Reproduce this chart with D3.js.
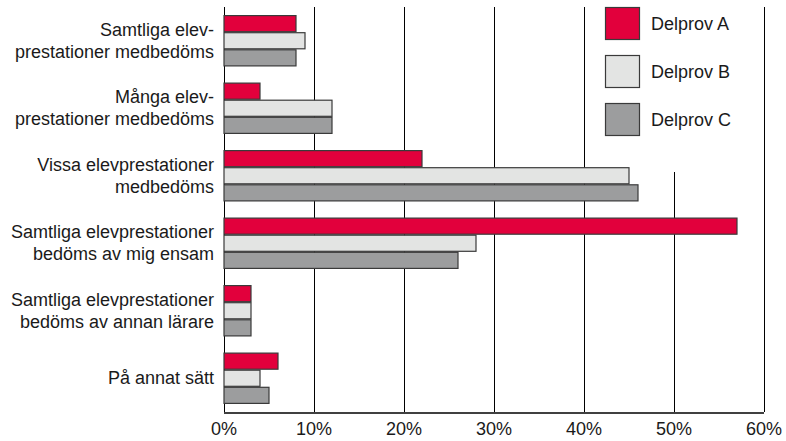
<!DOCTYPE html>
<html>
  <head>
    <meta charset="UTF-8" />
    <script src="https://d3js.org/d3.v7.min.js"></script>
    <style>
      body { margin: 0; background: #fff; }
      text { font-family: "Liberation Sans", Arial, sans-serif; font-size: 18px; fill: #1a1a1a; }
    </style>
  </head>
  <body>
    <svg id="chart" width="786" height="441"></svg>
    <script>
      // kategorier (radbrytningar som i originalet)
      var categories = [
        ["Samtliga elev-", "prestationer medbedöms"],
        ["Många elev-", "prestationer medbedöms"],
        ["Vissa elevprestationer", "medbedöms"],
        ["Samtliga elevprestationer", "bedöms av mig ensam"],
        ["Samtliga elevprestationer", "bedöms av annan lärare"],
        ["På annat sätt"]
      ];
      var series = ["Delprov A", "Delprov B", "Delprov C"];
      var delprovA = [8, 4, 22, 57, 3, 6];
      var delprovB = [9, 12, 45, 28, 3, 4];
      var delprovC = [8, 12, 46, 26, 3, 5];
      var ticks = [0, 10, 20, 30, 40, 50, 60];
      var colors = ["#e2003c", "#e3e4e3", "#9c9d9e"];

      var values = [delprovA, delprovB, delprovC];
      var svg = d3.select("svg");
      var plotTop = 7, plotBottom = 412;

      var x = d3.scaleLinear().domain([0, 60]).range([223.5, 763.5]);
      var y0 = d3.scaleBand()
        .domain(d3.range(categories.length))
        .range([plotTop, plotBottom])
        .paddingInner(0.24)
        .paddingOuter(0.12);
      var y1 = d3.scaleBand()
        .domain(series)
        .range([0, y0.bandwidth()]);
      var color = d3.scaleOrdinal().domain(series).range(colors);

      // stödlinjer
      svg.append("g")
        .selectAll("line")
        .data(ticks)
        .enter().append("line")
        .attr("x1", d => Math.round(x(d)) + 0.5)
        .attr("x2", d => Math.round(x(d)) + 0.5)
        .attr("y1", plotTop)
        .attr("y2", plotBottom)
        .style("stroke", "#000")
        .style("stroke-width", 1);

      // legend-bakgrund täcker 50%-linjen
      var legend = svg.append("g");
      legend.append("rect")
        .attr("x", x(40) + 2)
        .attr("y", plotTop)
        .attr("width", x(60) - x(40) - 4)
        .attr("height", 165)
        .attr("fill", "#fff");

      // staplar
      var groups = svg.append("g")
        .selectAll("g")
        .data(categories)
        .enter().append("g")
        .attr("transform", (d, i) => "translate(0," + y0(i) + ")");

      groups.selectAll("rect")
        .data((d, i) => series.map((s, j) => ({ s: s, v: values[j][i] })))
        .enter().append("rect")
        .attr("x", x(0) + 0.5)
        .attr("y", d => y1(d.s) + 0.5)
        .attr("width", d => x(d.v) - x(0))
        .attr("height", y1.bandwidth() - 1)
        .attr("fill", d => color(d.s))
        .style("stroke", "#3a3a3a")
        .style("stroke-width", 1.2);

      // kategorietiketter
      groups.append("text")
        .attr("text-anchor", "end")
        .attr("x", 214)
        .attr("y", y0.bandwidth() / 2)
        .selectAll("tspan")
        .data(d => d.map((t, k) => ({ t: t, k: k, n: d.length })))
        .enter().append("tspan")
        .attr("x", 214)
        .attr("dy", d => d.k === 0 ? ((-(d.n - 1) * 22 / 2) + 6) + "px" : "22px")
        .text(d => d.t);

      // x-axel
      var axis = svg.append("g")
        .attr("transform", "translate(0," + (plotBottom + 0.5) + ")")
        .call(d3.axisBottom(x).tickValues(ticks).tickSize(0).tickPadding(10).tickFormat(d => d + "%"));
      axis.select(".domain").style("stroke", "#000").style("stroke-width", 1.5);
      axis.selectAll("text").style("font-size", "18px").style("font-family", "Liberation Sans, Arial, sans-serif").attr("fill", "#1a1a1a");

      // legend
      var items = legend.selectAll("g")
        .data(series)
        .enter().append("g")
        .attr("transform", (d, i) => "translate(605," + (plotTop + i * 48) + ")");
      items.append("rect")
        .attr("x", 0.5)
        .attr("y", 0.5)
        .attr("width", 34)
        .attr("height", 32)
        .attr("fill", d => color(d))
        .style("stroke", "#3a3a3a")
        .style("stroke-width", 1.2);
      items.append("text")
        .attr("x", 46)
        .attr("y", 17)
        .attr("dy", "0.35em")
        .text(d => d);
    </script>
  </body>
</html>
